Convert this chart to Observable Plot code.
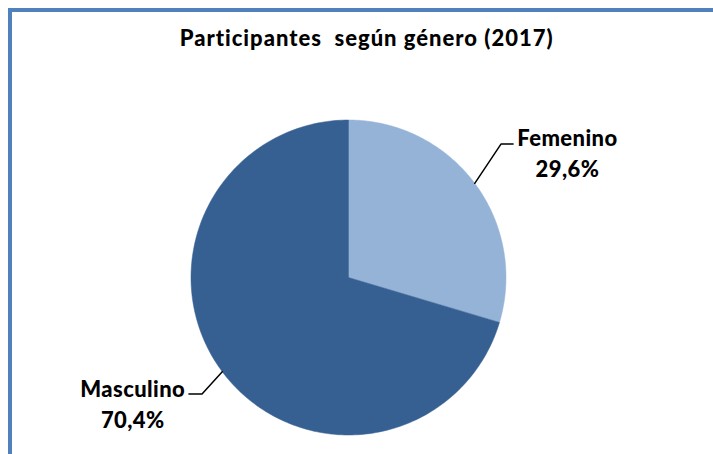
<!DOCTYPE html>
<html>
<head>
<meta charset="utf-8">
<script src="https://cdn.jsdelivr.net/npm/d3@7"></script>
<script src="https://cdn.jsdelivr.net/npm/@observablehq/plot@0.6"></script>
<style>
  html, body { margin: 0; padding: 0; background: #fff; }
  #wrap { position: relative; width: 713px; height: 454px; overflow: hidden; }
  #frame { position: absolute; left: 8px; top: 8px; width: 800px; height: 600px;
           border-top: 4px solid #4F81BD; border-left: 4px solid #4F81BD; pointer-events: none; z-index: 2; }
  #chart { position: absolute; left: 0; top: 0; }
  #chart g.lbl text { letter-spacing: 0.4px; }
  #chart g.ttl text { letter-spacing: 1px; }
</style>
</head>
<body>
<div id="wrap"><div id="chart"></div><div id="frame"></div></div>
<script>
const title = "Participantes  según género (2017)";
const categories = ["Femenino", "Masculino"];
const values = [29.6, 70.4];
const valueLabels = ["29,6%", "70,4%"];
const colors = ["#95B3D7", "#376092"];

// label layout (data units, radius = 1)
const elbows = [[0.968, 0.847], [-0.930, -0.739]];
const ends = [[1.045, 0.847], [-1.013, -0.739]];
const labelPos = [[1.39, 0.80], [-1.37, -0.795]];

const pie = d3.pie().sort(null).startAngle(0).endAngle(2 * Math.PI);
const arcs = pie(values);

const slices = arcs.map((a, i) => {
  const n = 200;
  const pts = [{x: 0, y: 0, cat: categories[i]}];
  for (let k = 0; k <= n; k++) {
    const t = a.startAngle + (a.endAngle - a.startAngle) * k / n;
    pts.push({x: Math.sin(t), y: Math.cos(t), cat: categories[i]});
  }
  pts.push({x: 0, y: 0, cat: categories[i]});
  return pts;
});

const leaders = arcs.map((a, i) => {
  const m = (a.startAngle + a.endAngle) / 2;
  return [
    {x: Math.sin(m), y: Math.cos(m)},
    {x: elbows[i][0], y: elbows[i][1]},
    {x: ends[i][0], y: ends[i][1]}
  ];
});

const labels = categories.map((c, i) => ({
  x: labelPos[i][0], y: labelPos[i][1], text: c + "\n" + valueLabels[i]
}));

const font = "Lato, 'Open Sans', sans-serif";

const plot = Plot.plot({
  width: 713,
  height: 454,
  marginLeft: 190.5,
  marginRight: 207.5,
  marginTop: 119.5,
  marginBottom: 19.5,
  x: {domain: [-1, 1], axis: null},
  y: {domain: [-1, 1], axis: null},
  style: {background: "transparent", overflow: "visible"},
  marks: [
    ...slices.map((s, i) => Plot.line(s, {x: "x", y: "y", fill: colors[i], stroke: colors[i], strokeWidth: 0.5, curve: "linear"})),
    ...leaders.map(l => Plot.line(l, {x: "x", y: "y", stroke: "#000", strokeWidth: 1.5, clip: false})),
    Plot.text(labels, {x: "x", y: "y", text: "text", fontSize: 22, fontWeight: 900,
      fontFamily: font, fill: "#000", lineHeight: 1.4, lineAnchor: "middle", textAnchor: "middle", clip: false, className: "lbl"}),
    Plot.text([title], {x: () => 0.115, y: () => 1.516, text: d => d, fontSize: 22, fontWeight: 900,
      fontFamily: font, fill: "#000", lineAnchor: "middle", textAnchor: "middle", clip: false, className: "ttl"})
  ]
});
document.getElementById("chart").appendChild(plot);
</script>
</body>
</html>
